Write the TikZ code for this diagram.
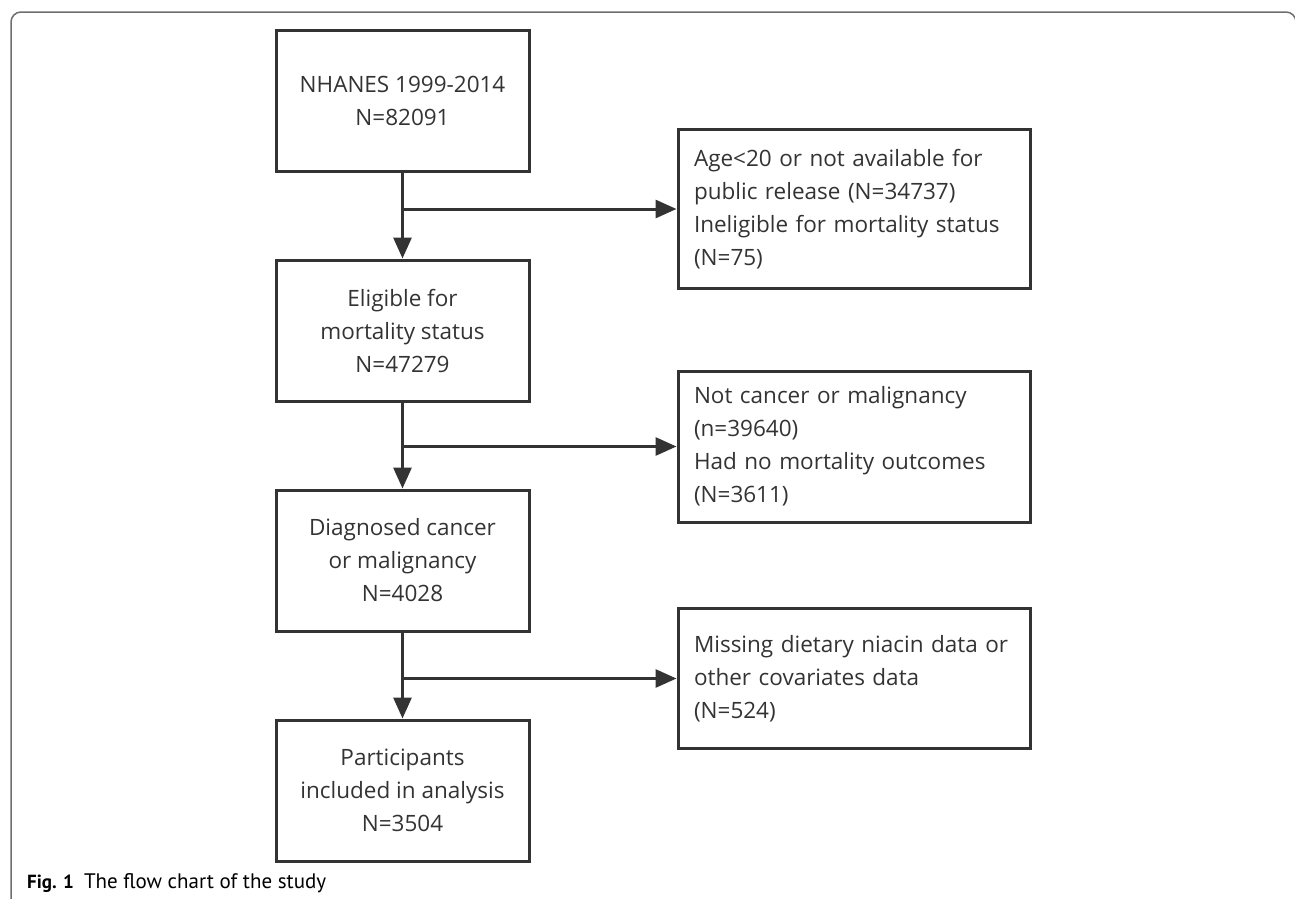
\documentclass[tikz,border=0pt]{standalone}
\usepackage{fontspec}
\setmainfont{Open Sans}
\newfontfamily\captionfont{PT Sans}
\usepackage{xcolor}
\definecolor{lineDark}{HTML}{333333}
\definecolor{frameGray}{HTML}{6E6E6E}
\usetikzlibrary{positioning,calc,arrows.meta}
\tikzset{%
  stageBox/.style={%
    rectangle,
    draw=lineDark,
    line width=3pt,
    text=lineDark,
    minimum width=253pt,
    minimum height=141pt,
    align=center,
    font=\fontsize{22.5}{33}\selectfont
  },
  exclBox/.style={%
    rectangle,
    draw=lineDark,
    line width=3pt,
    text=lineDark,
    text width=320pt,
    inner xsep=16pt,
    align=left,
    font=\fontsize{22.5}{33}\selectfont
  },
  arrowLine/.style={%
    -{Triangle[length=21pt,width=18pt]},
    line width=3pt,
    color=lineDark
  }
}

\begin{document}
\begin{tikzpicture}[x=1pt,y=1pt]
  \clip (0,0) rectangle (1295,-898);
  % outer frame of the figure
  \draw[frameGray, line width=1.5pt, rounded corners=10pt]
    (11,-900) -- (11,-12) -- (1296,-12) -- (1296,-900);

  \node[stageBox] (nhanes) at (402.5,-100.5) {NHANES 1999-2014\\N=82091};
  \node[stageBox, below=86pt of nhanes] (eligible) {Eligible for\\mortality status\\N=47279};
  \node[stageBox, below=86pt of eligible] (diagnosed) {Diagnosed cancer\\or malignancy\\N=4028};
  \node[stageBox, below=86pt of diagnosed] (included) {Participants\\included in analysis\\N=3504};

  \node[exclBox, minimum height=159pt, right=146pt of nhanes.south east, yshift=-36.5pt] (exclAge)
    {Age<20 or not available for\\public release (N=34737)\\Ineligible for mortality status\\(N=75)};
  \node[exclBox, minimum height=151pt, right=146pt of eligible.south east, yshift=-44pt] (exclCancer)
    {Not cancer or malignancy\\(n=39640)\\Had no mortality outcomes\\(N=3611)};
  \node[exclBox, minimum height=140pt, right=146pt of diagnosed.south east, yshift=-46pt] (exclMissing)
    {Missing dietary niacin data or\\other covariates data\\(N=524)};

  \draw[arrowLine] (nhanes) -- (eligible);
  \draw[arrowLine] (eligible) -- (diagnosed);
  \draw[arrowLine] (diagnosed) -- (included);

  \draw[arrowLine] (nhanes.south |- exclAge.west) -- (exclAge.west);
  \draw[arrowLine] (eligible.south |- exclCancer.west) -- (exclCancer.west);
  \draw[arrowLine] (diagnosed.south |- exclMissing.west) -- (exclMissing.west);

  \node[anchor=base west, inner sep=0pt, text=black,
    font=\captionfont\fontsize{21}{21}\selectfont] (caption) at (27,-888)
    {{\fontsize{19}{19}\selectfont\textbf{Fig. 1}}\hspace{10pt}The flow chart of the study};
\end{tikzpicture}
\end{document}
